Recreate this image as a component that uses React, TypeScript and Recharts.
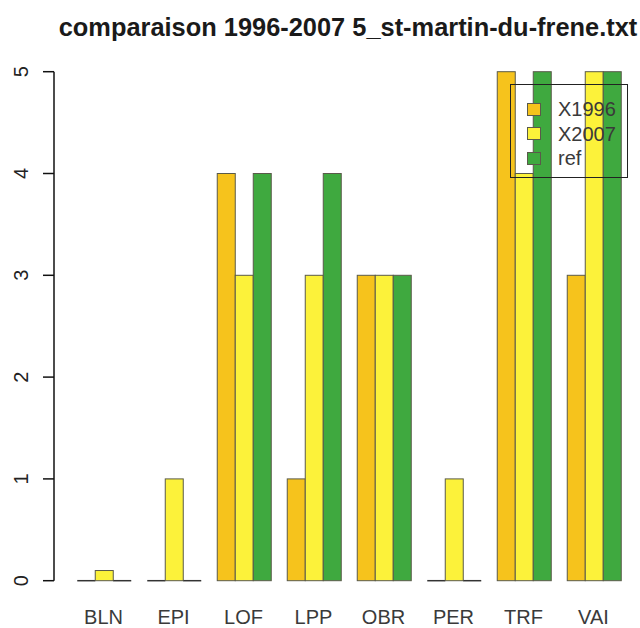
import React from "react";
import { BarChart, Bar, XAxis, YAxis, Legend } from "recharts";

const categories = ["BLN", "EPI", "LOF", "LPP", "OBR", "PER", "TRF", "VAI"];
const x1996 = [0, 0, 4, 1, 3, 0, 5, 3];
const x2007 = [0.1, 1, 3, 3, 3, 1, 4, 5];
const ref = [0, 0, 4, 4, 3, 0, 5, 5];
const yTicks = [0, 1, 2, 3, 4, 5];
const seriesNames = ["X1996", "X2007", "ref"];
const title = "comparaison 1996-2007 5_st-martin-du-frene.txt";

const colors = ["#F6C31C", "#FCF23A", "#3FA93F"];
const FONT = "'Liberation Sans', Arial, sans-serif";

const data = categories.map((c, i) => ({
  name: c,
  X1996: x1996[i],
  X2007: x2007[i],
  ref: ref[i],
}));

const BarShape = (props: any) => {
  const { x, y, width, height, fill } = props;
  if (!height || Math.abs(height) < 0.5) {
    return (
      <line x1={x} x2={x + width} y1={y} y2={y} stroke="#333" strokeWidth={1.5} />
    );
  }
  return (
    <rect x={x} y={y} width={width} height={height} fill={fill} stroke="#5a5a4a" strokeWidth={1} />
  );
};

const YTick = (props: any) => {
  const { x, y, payload } = props;
  return (
    <g transform={`translate(${x - 13.5},${y}) rotate(-90)`}>
      <text x={0} y={0} textAnchor="middle" fontSize={20} fontFamily={FONT} fill="#222">
        {payload.value}
      </text>
    </g>
  );
};

const XTick = (props: any) => {
  const { x, y, payload } = props;
  return (
    <text x={x} y={y + 43} textAnchor="middle" fontSize={20} fontFamily={FONT} fill="#3a3a3a">
      {payload.value}
    </text>
  );
};

const LegendBox = () => (
  <div
    style={{
      width: 118,
      height: 94,
      border: "1px solid #222",
      boxSizing: "border-box",
      background: "transparent",
      padding: "12px 0 0 16px",
      fontFamily: FONT,
    }}
  >
    {seriesNames.map((n, i) => (
      <div key={n} style={{ display: "flex", alignItems: "center", height: 24.5 }}>
        <div
          style={{
            width: 12,
            height: 11,
            background: colors[i],
            border: "1px solid #5a5a4a",
            marginRight: 17,
          }}
        />
        <span style={{ fontSize: 20, color: "#3a3a3a", lineHeight: "20px" }}>{n}</span>
      </div>
    ))}
  </div>
);

export default function App() {
  return (
    <div style={{ position: "absolute", left: 0, top: 0, width: 640, height: 628, background: "#fff" }}>
      <BarChart
        width={640}
        height={628}
        data={data}
        margin={{ top: 71.7, right: 0, bottom: 0, left: 0 }}
        barCategoryGap="12.5%"
        barGap={0}
      >
        <text
          x={348}
          y={36}
          textAnchor="middle"
          fontSize={25.4}
          fontWeight="bold"
          fontFamily={FONT}
          fill="#1a1a1a"
        >
          {title}
        </text>
        <XAxis
          dataKey="name"
          axisLine={false}
          tickLine={false}
          tickSize={0}
          tickMargin={0}
          height={47.3}
          padding={{ left: 14.5, right: 11.5 }}
          tick={<XTick />}
          interval={0}
        />
        <YAxis
          domain={[0, 5]}
          ticks={yTicks}
          width={54}
          tickSize={11}
          tickMargin={2}
          axisLine={{ stroke: "#111", strokeWidth: 1.5 }}
          tickLine={{ stroke: "#111", strokeWidth: 1.5 }}
          tick={<YTick />}
          allowDecimals={false}
        />
        {seriesNames.map((n, i) => (
          <Bar key={n} dataKey={n} fill={colors[i]} isAnimationActive={false} shape={<BarShape />} />
        ))}
        <Legend
          layout="horizontal"
          verticalAlign="middle"
          align="center"
          wrapperStyle={{ position: "absolute", left: 510, top: 84, width: 118, height: 94 }}
          content={<LegendBox />}
        />
      </BarChart>
    </div>
  );
}
